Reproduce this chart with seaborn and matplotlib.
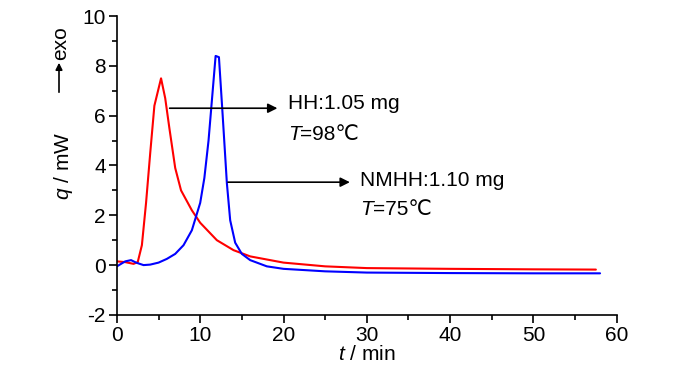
import matplotlib
matplotlib.use("Agg")
import matplotlib.pyplot as plt
import seaborn as sns
import pandas as pd
from matplotlib.ticker import MultipleLocator

# Data
hh_t = [0, 1.0, 2.0, 2.5, 3.0, 3.5, 4.0, 4.5, 5.3, 5.8, 6.3, 7.0, 7.7, 9.0, 10.0, 12.0, 14.0, 16.0, 20.0, 25.0, 30.0, 40.0, 50.0, 57.5]
hh_q = [0.15, 0.12, 0.05, 0.12, 0.8, 2.5, 4.5, 6.4, 7.5, 6.7, 5.5, 3.9, 3.0, 2.2, 1.7, 1.0, 0.6, 0.35, 0.1, -0.05, -0.12, -0.15, -0.17, -0.18]
nm_t = [0, 1.0, 1.7, 2.3, 3.2, 4.0, 5.0, 6.0, 7.0, 8.0, 9.0, 10.0, 10.5, 11.0, 11.5, 11.85, 12.25, 12.7, 13.2, 13.6, 14.2, 15.0, 16.0, 18.0, 20.0, 25.0, 30.0, 40.0, 50.0, 58.0]
nm_q = [-0.05, 0.15, 0.2, 0.1, 0.0, 0.02, 0.1, 0.25, 0.45, 0.8, 1.4, 2.5, 3.5, 5.0, 7.0, 8.4, 8.35, 6.0, 3.3, 1.8, 0.9, 0.45, 0.2, -0.05, -0.15, -0.25, -0.3, -0.32, -0.33, -0.33]
labels = ["HH:1.05 mg", "NMHH:1.10 mg"]
temps = ["=98\u2103", "=75\u2103"]

sns.set_style("ticks", {"text.color": "black", "axes.labelcolor": "black",
                        "xtick.color": "black", "ytick.color": "black",
                        "axes.edgecolor": "black"})
fam = ["Liberation Sans", "DejaVu Sans"]
plt.rcParams["font.family"] = fam
plt.rcParams["axes.unicode_minus"] = False
plt.rcParams["mathtext.fontset"] = "custom"
plt.rcParams["mathtext.it"] = "Liberation Sans:italic"
plt.rcParams["mathtext.rm"] = "Liberation Sans"

FS = 15

fig = plt.figure(figsize=(7, 3.74), dpi=100)
ax = fig.add_axes([0.167, 0.158, 0.714, 0.799])

df_hh = pd.DataFrame({"t": hh_t, "q": hh_q})
df_nm = pd.DataFrame({"t": nm_t, "q": nm_q})
sns.lineplot(data=df_hh, x="t", y="q", ax=ax, color="#ff0000", lw=1.5, sort=False)
sns.lineplot(data=df_nm, x="t", y="q", ax=ax, color="#0000ff", lw=1.5, sort=False)

ax.set_xlim(0, 60)
ax.set_ylim(-2, 10)
ax.xaxis.set_major_locator(MultipleLocator(10))
ax.xaxis.set_minor_locator(MultipleLocator(5))
ax.yaxis.set_major_locator(MultipleLocator(2))
ax.yaxis.set_minor_locator(MultipleLocator(1))
for s in ["top", "right"]:
    ax.spines[s].set_visible(False)
for s in ["left", "bottom"]:
    ax.spines[s].set_color("black")
    ax.spines[s].set_linewidth(1.2)
ax.tick_params(which="major", direction="out", length=6, width=1.2, color="black", labelcolor="black", labelsize=FS, pad=2)
ax.tick_params(which="minor", direction="out", length=3.5, width=1.2, color="black")

ax.set_xlabel("$t$ / min", fontsize=FS, labelpad=0, color="black")
ax.set_ylabel("$q$ / mW", fontsize=FS, color="black")
ax.yaxis.set_label_coords(-0.083, 0.5)

# exo arrow
fig.add_artist(matplotlib.patches.FancyArrowPatch((59/700, 1-95/374), (59/700, 1-60/374),
               transform=fig.transFigure, arrowstyle="-|>", mutation_scale=10, color="black", lw=1.2))
fig.text(61/700, 1-43/374, "exo", rotation=90, ha="center", va="center", fontsize=FS, color="black")

def label(x, y, name, temp, x2, y2):
    ax.text(x, y, name, fontsize=FS, va="center", ha="left", color="black")
    t = ax.text(x2, y2, "T", fontsize=FS, va="center", ha="left", style="italic", color="black")
    ax.annotate(temp, xy=(1, 0.5), xycoords=t, va="center", ha="left", fontsize=FS,
                family=["Liberation Sans", "DejaVu Sans"], color="black")

# annotations
ax.annotate("", xy=(19.6, 6.3), xytext=(6.0, 6.3),
            arrowprops=dict(arrowstyle="-|>", color="black", lw=1.2, mutation_scale=14))
label(20.5, 6.48, labels[0], temps[0], 20.5, 5.25)
ax.annotate("", xy=(28.3, 3.33), xytext=(13.0, 3.33),
            arrowprops=dict(arrowstyle="-|>", color="black", lw=1.2, mutation_scale=14))
label(29.2, 3.4, labels[1], temps[1], 29.2, 2.25)

fig.savefig("out.png", dpi=100)
